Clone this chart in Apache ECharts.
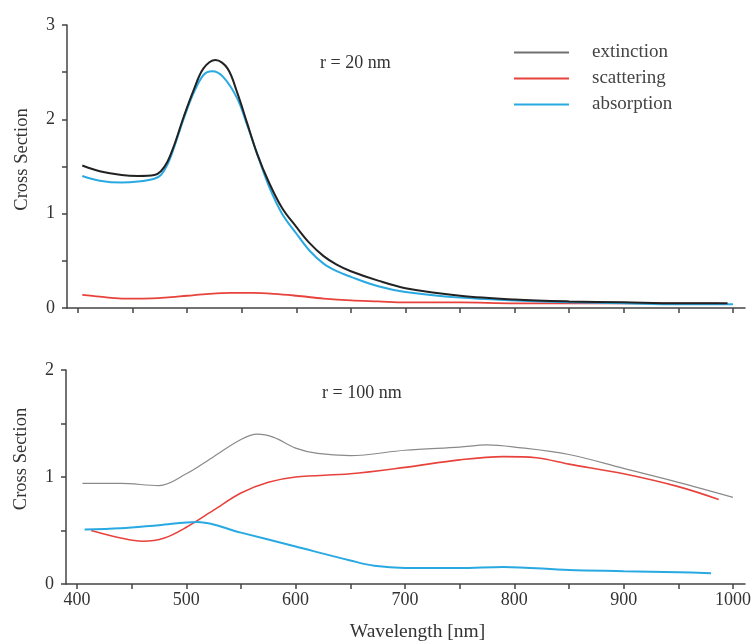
<!DOCTYPE html>
<html><head><meta charset="utf-8">
<script src="https://cdn.jsdelivr.net/npm/echarts@6/dist/echarts.min.js"></script>
<style>html,body{margin:0;padding:0;background:#fff}#c{width:756px;height:644px}</style>
</head><body><div id="c"></div>
<script>
// ---- data ----
const seriesNames = ['extinction', 'scattering', 'absorption'];
const xTicks = [400, 450, 500, 550, 600, 650, 700, 750, 800, 850, 900, 950, 1000];
const xLabels = [400, 500, 600, 700, 800, 900, 1000];
const yTicksTop = [0, 0.5, 1, 1.5, 2, 2.5, 3];
const yLabelsTop = [0, 1, 2, 3];
const yTicksBot = [0, 0.5, 1, 1.5, 2];
const yLabelsBot = [0, 1, 2];

// r = 20 nm
const wlExtTop = [404, 420, 440, 455, 470, 476, 482, 488, 497, 506, 515, 526, 537, 546, 555, 564, 575, 587, 600, 612, 625, 637, 650, 675, 700, 750, 800, 850, 900, 950, 995];
const extTop = [1.51, 1.45, 1.41, 1.40, 1.41, 1.45, 1.55, 1.72, 2.03, 2.31, 2.54, 2.63, 2.54, 2.28, 1.96, 1.64, 1.33, 1.06, 0.86, 0.69, 0.55, 0.46, 0.39, 0.29, 0.21, 0.13, 0.09, 0.07, 0.06, 0.05, 0.05];
const wlAbsTop = [404, 420, 440, 455, 470, 476, 482, 488, 497, 506, 515, 523, 533, 546, 555, 564, 575, 587, 600, 612, 625, 637, 650, 675, 700, 750, 800, 850, 900, 950, 1000];
const absTop = [1.40, 1.35, 1.33, 1.34, 1.37, 1.41, 1.52, 1.70, 2.01, 2.28, 2.47, 2.51, 2.45, 2.22, 1.94, 1.64, 1.29, 1.00, 0.79, 0.61, 0.47, 0.39, 0.33, 0.23, 0.17, 0.11, 0.08, 0.06, 0.05, 0.04, 0.04];
const wlScaTop = [404, 420, 440, 460, 480, 500, 520, 540, 560, 580, 600, 625, 650, 675, 700, 750, 800, 850, 900, 950, 987];
const scaTop = [0.14, 0.12, 0.10, 0.10, 0.11, 0.13, 0.15, 0.16, 0.16, 0.15, 0.13, 0.10, 0.08, 0.07, 0.06, 0.06, 0.05, 0.05, 0.05, 0.05, 0.05];

// r = 100 nm
const wlExtBot = [405, 440, 475, 500, 525, 550, 565, 580, 600, 620, 650, 700, 750, 775, 800, 850, 900, 950, 1000];
const extBot = [0.94, 0.94, 0.92, 1.03, 1.19, 1.35, 1.40, 1.37, 1.27, 1.22, 1.20, 1.25, 1.28, 1.30, 1.28, 1.21, 1.08, 0.95, 0.81];
const wlScaBot = [413, 440, 460, 480, 500, 525, 550, 575, 600, 650, 700, 750, 790, 820, 850, 900, 950, 987];
const scaBot = [0.50, 0.43, 0.40, 0.43, 0.53, 0.69, 0.85, 0.95, 1.00, 1.03, 1.09, 1.16, 1.19, 1.18, 1.12, 1.03, 0.91, 0.79];
const wlAbsBot = [407, 440, 475, 510, 550, 600, 650, 672, 700, 750, 790, 850, 900, 950, 980];
const absBot = [0.51, 0.52, 0.55, 0.58, 0.48, 0.35, 0.22, 0.17, 0.15, 0.15, 0.16, 0.13, 0.12, 0.11, 0.10];

const zip = (xs, ys) => xs.map((x, i) => [x, ys[i]]);

// ---- styles ----
const FONT = 'Liberation Serif';
const AX = '#444';
const TXT = '#333';
const C_EXT = '#222222', C_EXT2 = '#8a8a8a', C_SCA = '#e8423d', C_ABS = '#29a9e1';

function xAxis(gi, showLabels) {
  return {
    type: 'value', gridIndex: gi, min: 390, max: 1011,
    name: showLabels ? 'Wavelength [nm]' : '', nameLocation: 'middle', nameGap: 38,
    nameTextStyle: {fontFamily: FONT, fontSize: 19.5, color: TXT, padding: [0, 0, 0, 24]},
    axisLine: {show: true, onZero: false, lineStyle: {color: AX, width: 1.5}},
    axisTick: {show: true, inside: false, length: 5, customValues: xTicks, lineStyle: {color: AX, width: 1.5}},
    axisLabel: {show: showLabels, customValues: xLabels, formatter: v => String(v), fontFamily: FONT, fontSize: 18, color: TXT, margin: 7},
    splitLine: {show: false}
  };
}
function yAxis(gi, max, ticks, labels, shift) {
  return {
    type: 'value', gridIndex: gi, min: 0, max: max,
    name: 'Cross Section', nameLocation: 'middle', nameGap: 35,
    nameTextStyle: {fontFamily: FONT, fontSize: 18.5, color: TXT, padding: [0, 0, 0, shift]},
    axisLine: {show: true, lineStyle: {color: AX, width: 1.5}},
    axisTick: {show: true, inside: false, length: 5, customValues: ticks, lineStyle: {color: AX, width: 1.5}},
    axisLabel: {customValues: labels, fontFamily: FONT, fontSize: 18, color: TXT, margin: 12},
    splitLine: {show: false}
  };
}
function line(name, xi, data, color, width) {
  return {
    type: 'line', name: name, xAxisIndex: xi, yAxisIndex: xi, data: data,
    smooth: 0.35, showSymbol: false, symbol: 'none', animation: false,
    lineStyle: {color: color, width: width}, itemStyle: {color: color}
  };
}

const chart = echarts.init(document.getElementById('c'), null, {renderer: 'canvas'});
chart.setOption({
  backgroundColor: '#fff',
  animation: false,
  grid: [
    {left: 67, right: 11, top: 25, height: 283},
    {left: 66, right: 11, top: 370, height: 214}
  ],
  xAxis: [xAxis(0, false), xAxis(1, true)],
  yAxis: [yAxis(0, 3, yTicksTop, yLabelsTop, 14), yAxis(1, 2, yTicksBot, yLabelsBot, 36)],
  legend: {
    orient: 'vertical', left: 509, top: 38, itemGap: 7,
    itemWidth: 55, itemHeight: 2, icon: 'rect',
    textStyle: {fontFamily: FONT, fontSize: 19, color: '#444', padding: [0, 0, 0, 18], lineHeight: 19},
    data: [
      {name: 'extinction', itemStyle: {color: '#707070'}},
      {name: 'scattering', itemStyle: {color: C_SCA}},
      {name: 'absorption', itemStyle: {color: C_ABS}}
    ],
    selectedMode: false
  },
  graphic: [
    {type: 'text', left: 320, top: 54, style: {text: 'r = 20 nm', font: '18px "Liberation Serif"', fill: TXT}},
    {type: 'text', left: 322, top: 384, style: {text: 'r = 100 nm', font: '18px "Liberation Serif"', fill: TXT}}
  ],
  series: [
    line('scattering', 0, zip(wlScaTop, scaTop), C_SCA, 1.8),
    line('absorption', 0, zip(wlAbsTop, absTop), C_ABS, 2),
    line('extinction', 0, zip(wlExtTop, extTop), C_EXT, 2),
    line('extinction', 1, zip(wlExtBot, extBot), C_EXT2, 1.2),
    line('scattering', 1, zip(wlScaBot, scaBot), C_SCA, 1.6),
    line('absorption', 1, zip(wlAbsBot, absBot), C_ABS, 2)
  ]
});
</script></body></html>
